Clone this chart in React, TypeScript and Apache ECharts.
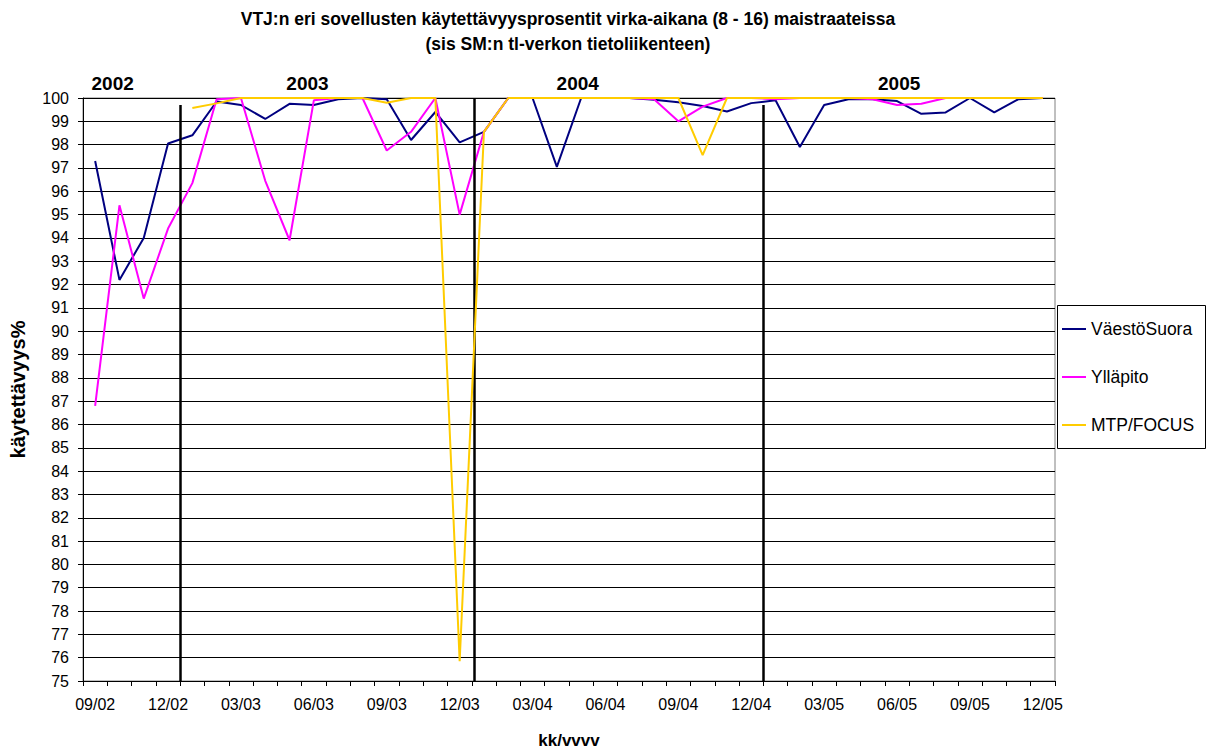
import React, { useEffect, useRef } from "react";
import * as echarts from "echarts";

const months: string[] = [
  "09/02", "10/02", "11/02", "12/02",
  "01/03", "02/03", "03/03", "04/03", "05/03", "06/03", "07/03", "08/03", "09/03", "10/03", "11/03", "12/03",
  "01/04", "02/04", "03/04", "04/04", "05/04", "06/04", "07/04", "08/04", "09/04", "10/04", "11/04", "12/04",
  "01/05", "02/05", "03/05", "04/05", "05/05", "06/05", "07/05", "08/05", "09/05", "10/05", "11/05", "12/05",
];

const seriesNames: string[] = ["VäestöSuora", "Ylläpito", "MTP/FOCUS"];
const seriesColors: string[] = ["#000080", "#FF00FF", "#FFCC00"];

const vaestoSuora: (number | null)[] = [
  97.3, 92.2, 94.0, 98.05,
  98.4, 99.85, 99.7, 99.1, 99.75, 99.7, 99.95, 100, 99.95, 98.2, 99.4, 98.1,
  98.55, 100, 100, 97.05, 100, 100, 100, 99.93, 99.82, 99.66, 99.42, 99.78,
  99.9, 97.9, 99.7, 99.95, 99.95, 99.87, 99.32, 99.38, 100, 99.38, 99.95, 100,
];

const yllapito: (number | null)[] = [
  86.8, 95.4, 91.4, 94.4,
  96.35, 99.95, 100, 96.45, 93.9, 99.9, 100, 100, 97.75, 98.55, 100, 95.0,
  98.55, 100, 100, 100, 100, 100, 100, 99.95, 99.0, 99.63, 100, 100,
  99.95, 100, 100, 100, 99.95, 99.7, 99.75, 100, 100, 100, 100, 100,
];

const mtpFocus: (number | null)[] = [
  null, null, null, null,
  99.57, 99.77, 100, 100, 100, 100, 100, 100, 99.8, 100, 100, 75.85,
  98.55, 100, 100, 100, 100, 100, 100, 100, 100, 97.55, 100, 100,
  100, 100, 100, 100, 100, 100, 100, 100, 100, 100, 100, 100,
];

const yearLabels: string[] = ["2002", "2003", "2004", "2005"];
// year label positions on the month scale (0..40, boundaries)
const yearLabelPos: number[] = [1.3, 9.3, 20.4, 33.6];
// year dividers on the month-boundary scale, with top value of each line
const yearDividers: number[] = [4, 16.1, 28];
const dividerTops: number[] = [99.7, 100, 99.7];

const yMin = 75;
const yMax = 100;

const titleLines: string[] = [
  "VTJ:n eri sovellusten käytettävyysprosentit virka-aikana (8 - 16) maistraateissa",
  "(sis SM:n tl-verkon tietoliikenteen)",
];

const FONT = "'Liberation Sans', Arial, sans-serif";

export default function App() {
  const ref = useRef<HTMLDivElement>(null);

  useEffect(() => {
    if (!ref.current) return;
    const chart = echarts.init(ref.current, undefined, { renderer: "svg" });

    const gridLeft = 81;
    const gridRight = 1055;
    const gridTop = 98;
    const gridBottom = 688;
    const W = 1211;
    const H = 754;
    const monthW = (gridRight - gridLeft) / months.length;

    const dataSeries = [vaestoSuora, yllapito, mtpFocus].map((d, i) => ({
      name: seriesNames[i],
      type: "line",
      xAxisIndex: 0,
      yAxisIndex: 0,
      data: d,
      symbol: "none",
      showSymbol: false,
      connectNulls: false,
      lineStyle: { color: seriesColors[i], width: 2 },
      itemStyle: { color: seriesColors[i] },
      z: 3 + i,
    }));

    const dividerSeries = {
      name: "dividers",
      type: "line",
      xAxisIndex: 1,
      yAxisIndex: 0,
      data: [],
      silent: true,
      z: 2,
      markLine: {
        symbol: "none",
        silent: true,
        animation: false,
        label: { show: false },
        lineStyle: { color: "#000", width: 2.5, type: "solid" },
        data: yearDividers.map((x, i) => [
          { coord: [x, dividerTops[i]] },
          { coord: [x, yMin] },
        ]),
      },
    };

    const graphics: any[] = [];
    titleLines.forEach((t, i) => {
      graphics.push({
        type: "text",
        x: 568,
        y: 19 + i * 25,
        style: {
          text: t,
          fill: "#000",
          font: `bold 17.5px ${FONT}`,
          textAlign: "center",
          textVerticalAlign: "middle",
        },
      });
    });
    yearLabels.forEach((t, i) => {
      graphics.push({
        type: "text",
        x: gridLeft + yearLabelPos[i] * monthW,
        y: 83,
        style: {
          text: t,
          fill: "#000",
          font: `bold 19px ${FONT}`,
          textAlign: "center",
          textVerticalAlign: "middle",
        },
      });
    });
    graphics.push({
      type: "rect",
      shape: { x: 1057.5, y: 305.5, width: 148, height: 143 },
      style: { fill: "#fff", stroke: "#000", lineWidth: 1 },
      z: 0,
    });

    chart.setOption({
      animation: false,
      backgroundColor: "#fff",
      textStyle: { fontFamily: FONT, color: "#000" },
      grid: {
        left: gridLeft,
        right: W - gridRight,
        top: gridTop,
        bottom: H - gridBottom,
        show: true,
        borderColor: "#808080",
        borderWidth: 1,
        backgroundColor: "transparent",
      },
      legend: {
        data: seriesNames,
        orient: "vertical",
        left: 1061,
        top: 320,
        itemWidth: 24,
        itemHeight: 14,
        itemGap: 30,
        padding: 0,
        itemStyle: { opacity: 0, borderWidth: 0 },
        textStyle: { fontSize: 17.5, color: "#000", fontFamily: FONT, lineHeight: 17 },
        z: 10,
      },
      xAxis: [
        {
          type: "category",
          data: months,
          boundaryGap: true,
          name: "kk/vvvv",
          nameLocation: "middle",
          nameGap: 51,
          nameTextStyle: { fontWeight: "bold", fontSize: 17, color: "#000", fontFamily: FONT },
          axisLine: { show: true, lineStyle: { color: "#000", width: 1 } },
          axisTick: { show: true, interval: 0, length: 5, lineStyle: { color: "#000" } },
          axisLabel: { interval: 2, fontSize: 16, color: "#000", margin: 15, fontFamily: FONT },
          splitLine: { show: false },
        },
        {
          type: "value",
          min: 0,
          max: months.length,
          show: false,
          gridIndex: 0,
          splitLine: { show: false },
        },
      ],
      yAxis: [
        {
          type: "value",
          min: yMin,
          max: yMax,
          interval: 1,
          name: "käytettävyys%",
          nameLocation: "middle",
          nameGap: 55,
          nameRotate: 90,
          nameTextStyle: { fontWeight: "bold", fontSize: 20, color: "#000", fontFamily: FONT },
          axisLine: { show: true, lineStyle: { color: "#000", width: 1 } },
          axisTick: { show: true, length: 5, lineStyle: { color: "#000" } },
          axisLabel: { fontSize: 16, color: "#000", margin: 14, fontFamily: FONT },
          splitLine: { show: true, lineStyle: { color: "#000", width: 1 } },
        },
      ],
      graphic: graphics,
      series: [...dataSeries, dividerSeries],
    });

    return () => {
      chart.dispose();
    };
  }, []);

  return (
    <div
      ref={ref}
      style={{ position: "fixed", left: 0, top: 0, width: 1211, height: 754, background: "#fff" }}
    />
  );
}
